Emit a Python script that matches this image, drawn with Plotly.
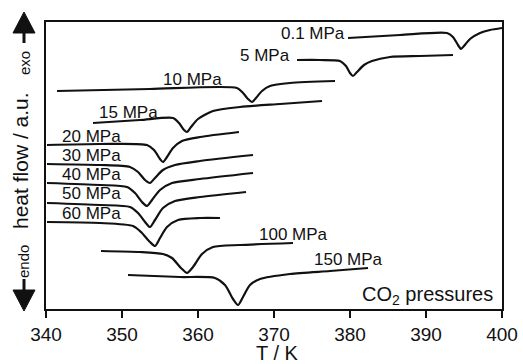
import plotly.graph_objects as go

# Temperature (K) and heat-flow (a.u., offset) values
T_01 = [379.74, 386.58, 392.76, 393.55, 394.21, 394.61, 395.0, 395.79, 397.11, 398.42, 400.0]
H_01 = [271, 274, 276, 272, 264, 260, 263, 270, 276, 279, 281]

T_5 = [373.03, 376.05, 378.68, 379.47, 380.0, 380.39, 380.92, 381.84, 382.89, 385.26, 389.21, 393.55]
H_5 = [249, 249, 248, 243, 236, 233, 237, 244, 248, 252, 253, 254]

T_10 = [341.45, 353.68, 365.13, 365.92, 366.58, 367.11, 367.63, 368.42, 369.47, 372.11, 378.03]
H_10 = [218, 220, 221, 216, 210, 207, 211, 218, 223, 226, 228]

T_15 = [346.18, 352.37, 356.71, 357.5, 358.16, 358.55, 359.08, 360.0, 361.97, 365.53, 370.79, 376.32]
H_15 = [186, 189, 191, 186, 179, 177, 182, 190, 198, 202, 205, 208]

T_20 = [340.13, 347.11, 353.29, 354.21, 355.0, 355.39, 355.92, 356.71, 357.89, 360.26, 365.39]
H_20 = [164, 165, 164, 159, 150, 147, 152, 161, 168, 172, 177]

T_30 = [340.13, 347.11, 351.05, 352.11, 353.03, 353.68, 354.34, 355.39, 356.97, 360.26, 367.24]
H_30 = [145, 144, 142, 137, 129, 126, 131, 139, 144, 148, 154]

T_40 = [340.13, 347.11, 350.66, 351.71, 352.63, 353.29, 353.95, 355.0, 356.58, 360.26, 367.24]
H_40 = [126, 124, 122, 116, 107, 103, 109, 119, 126, 130, 136]

T_50 = [340.13, 347.11, 351.05, 352.11, 353.03, 353.68, 354.34, 355.39, 356.97, 360.26, 366.32]
H_50 = [106, 104, 102, 96, 87, 82, 89, 101, 108, 112, 117]

T_60 = [340.13, 347.11, 351.45, 352.5, 353.68, 354.34, 355.0, 355.92, 357.37, 360.26, 362.89]
H_60 = [87, 86, 83, 77, 67, 63, 71, 82, 89, 91, 91]

T_100 = [347.24, 352.37, 355.39, 356.58, 357.76, 358.55, 359.34, 360.53, 361.97, 365.53, 372.5]
H_100 = [58, 57, 55, 51, 41, 36, 42, 55, 62, 64, 66]

T_150 = [350.79, 357.63, 362.24, 363.55, 364.61, 365.26, 365.92, 366.84, 368.16, 372.11, 377.37, 382.37]
H_150 = [34, 32, 31, 24, 10, 4, 12, 24, 30, 35, 38, 41]

series_names = ["0.1 MPa", "5 MPa", "10 MPa", "15 MPa", "20 MPa", "30 MPa",
                "40 MPa", "50 MPa", "60 MPa", "100 MPa", "150 MPa"]
series_T = [T_01, T_5, T_10, T_15, T_20, T_30, T_40, T_50, T_60, T_100, T_150]
series_H = [H_01, H_5, H_10, H_15, H_20, H_30, H_40, H_50, H_60, H_100, H_150]

# label anchor positions (T, heat flow)
label_T = [375.13, 368.82, 359.21, 350.92, 346.05, 346.05, 346.05, 346.05, 346.05, 372.63, 379.74]
label_H = [276, 254, 230, 197, 173, 154, 135, 116, 96, 75, 50]

x_ticks = [340, 350, 360, 370, 380, 390, 400]

FONT = "Liberation Sans, Arial, sans-serif"
INK = "#111111"

fig = go.Figure()
for name, tx, hy in zip(series_names, series_T, series_H):
    fig.add_trace(go.Scatter(
        x=tx, y=hy, mode="lines", name=name,
        line=dict(color=INK, width=2.2, shape="spline", smoothing=0.7),
        showlegend=False, hoverinfo="skip"))


def px(xp):
    return (xp - 46) / 456


def py(yp):
    return (309 - yp) / 287


annotations = []
for name, lx, ly in zip(series_names, label_T, label_H):
    annotations.append(dict(x=lx, y=ly, xref="x", yref="y", text=name,
                            xanchor="center", yanchor="middle",
                            showarrow=False, font=dict(family=FONT, size=17, color=INK)))
annotations.append(dict(x=399.1, y=14, xref="x", yref="y", xanchor="right", yanchor="middle",
                        text="CO<sub>2</sub> pressures", showarrow=False,
                        font=dict(family=FONT, size=20, color=INK)))
# axis titles and exo / endo markers
annotations.append(dict(x=px(20), y=py(161), xref="paper", yref="paper",
                        xanchor="center", yanchor="middle",
                        text="heat flow / a.u.", textangle=-90, showarrow=False,
                        font=dict(family=FONT, size=21, color=INK)))
annotations.append(dict(x=px(24), y=py(63), xref="paper", yref="paper",
                        xanchor="center", yanchor="middle",
                        text="exo", textangle=-90, showarrow=False,
                        font=dict(family=FONT, size=15, color=INK)))
annotations.append(dict(x=px(23), y=py(262), xref="paper", yref="paper",
                        xanchor="center", yanchor="middle",
                        text="endo", textangle=-90, showarrow=False,
                        font=dict(family=FONT, size=15, color=INK)))
annotations.append(dict(x=px(277), y=py(352.5), xref="paper", yref="paper",
                        xanchor="center", yanchor="middle",
                        text="T / K", showarrow=False,
                        font=dict(family=FONT, size=20, color=INK)))

shapes = [
    # up arrow
    dict(type="line", xref="paper", yref="paper", x0=px(24), x1=px(24), y0=py(43), y1=py(30),
         line=dict(color=INK, width=3)),
    dict(type="path", xref="paper", yref="paper",
         path=f"M {px(24)},{py(12)} L {px(13)},{py(33)} L {px(35)},{py(33)} Z",
         fillcolor=INK, line=dict(color=INK, width=1)),
    # down arrow
    dict(type="line", xref="paper", yref="paper", x0=px(24), x1=px(24), y0=py(279), y1=py(293),
         line=dict(color=INK, width=3)),
    dict(type="path", xref="paper", yref="paper",
         path=f"M {px(24)},{py(311)} L {px(13)},{py(290)} L {px(35)},{py(290)} Z",
         fillcolor=INK, line=dict(color=INK, width=1)),
]

fig.update_layout(
    width=523, height=364,
    margin=dict(l=46, r=21, t=22, b=55),
    paper_bgcolor="white", plot_bgcolor="white",
    font=dict(family=FONT, color=INK),
    annotations=annotations, shapes=shapes,
    xaxis=dict(range=[340, 400], tickvals=x_ticks, ticks="outside", ticklen=7, tickwidth=2,
               tickcolor=INK, showline=True, linewidth=2, linecolor=INK,
               mirror=True, showgrid=False, zeroline=False, automargin=False,
               tickfont=dict(family=FONT, size=19, color=INK)),
    yaxis=dict(range=[0, 287], showticklabels=False, ticks="", showline=True, linewidth=2,
               linecolor=INK, mirror=True, showgrid=False, zeroline=False, automargin=False),
)

fig.write_html(
    "out.html",
    config={"displayModeBar": False},
    post_script="document.body.style.margin='0';document.body.style.overflow='hidden';",
)
